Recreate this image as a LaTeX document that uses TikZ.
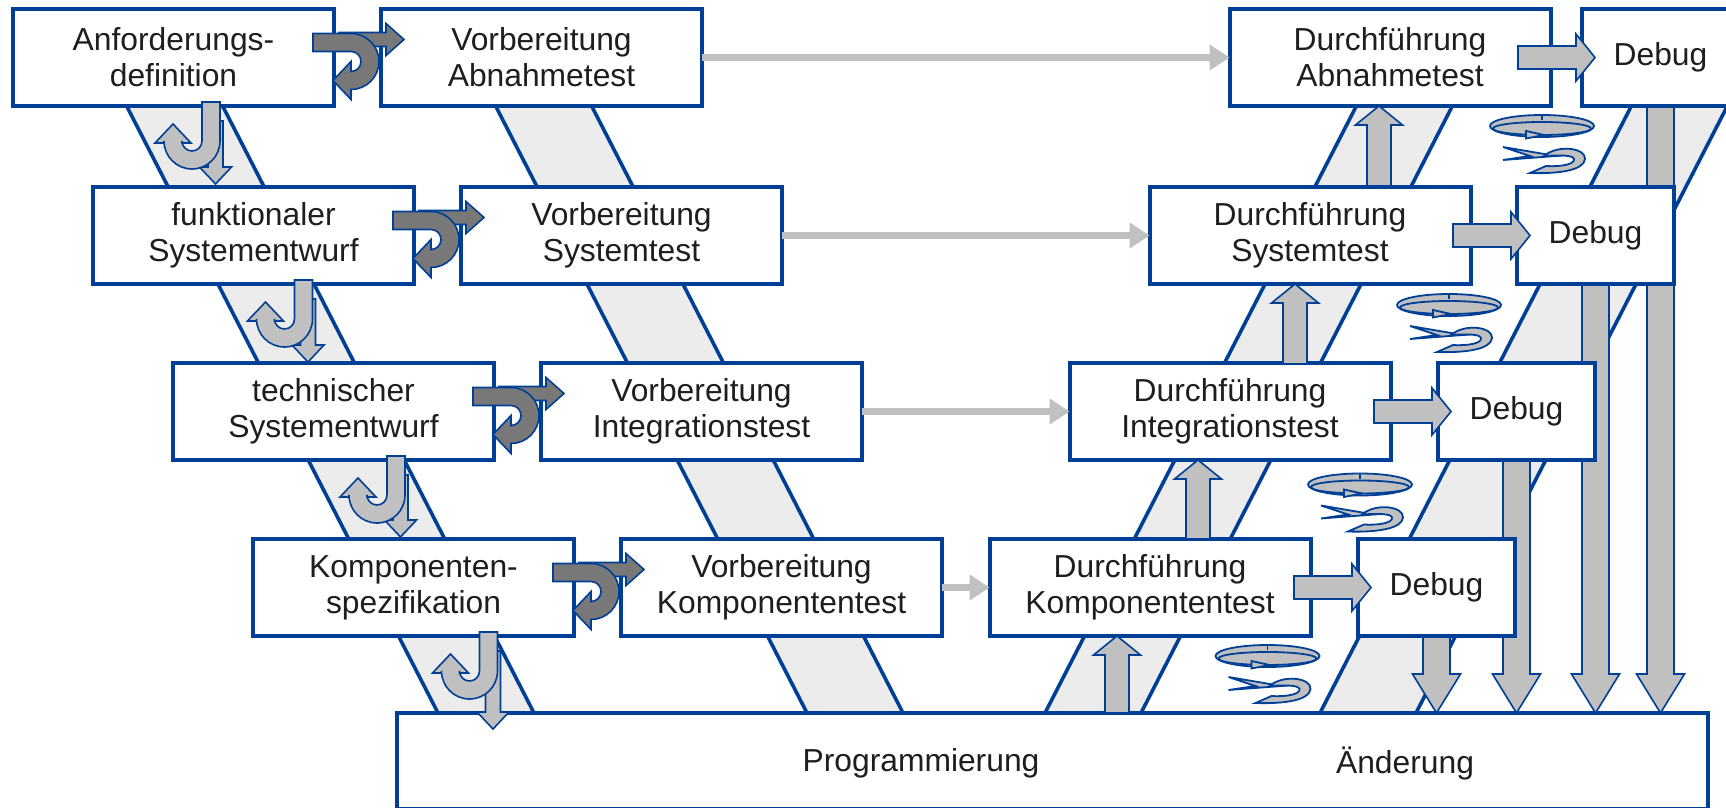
\documentclass[tikz,border=0pt]{standalone}
\usepackage{fontspec}
\setmainfont{Liberation Sans}
\usetikzlibrary{arrows.meta,calc,backgrounds}

\definecolor{vblue}{RGB}{0,63,150}
\definecolor{bandgray}{RGB}{236,236,236}
\definecolor{lightarrow}{RGB}{192,192,192}
\definecolor{darkarrow}{RGB}{120,120,120}
\definecolor{textgray}{RGB}{30,30,30}

\tikzset{
  stagebox/.style={draw=vblue, line width=2pt, fill=white, text=textgray,
    minimum width=160.5pt, minimum height=48.5pt, inner sep=0pt, outer sep=0pt,
    align=center, font=\fontsize{15.9}{18}\selectfont},
  debugbox/.style={stagebox, minimum width=78.5pt},
  boxtext/.style={text=textgray, inner sep=0pt, font=\fontsize{15.9}{18}\selectfont},
  vband/.style={draw=vblue, line width=1.8pt, fill=bandgray},
  flowline/.style={draw=lightarrow, line width=3.5pt, -{Triangle[length=10pt,width=12.5pt]}},
  blockarrow/.style={draw=vblue, line width=0.8pt, fill=lightarrow},
  turnarrow/.style={draw=vblue, line width=0.8pt, fill=darkarrow},
  spinline/.style={draw=vblue, line width=0.9pt, fill=lightarrow},
  % dark U-turn beside a left box, origin at its east side
  pics/uturn/.style={code={
    \draw[turnarrow] (5,-25) -- (52,-25) -- (52,-34) -- (70,-18) -- (52,-2) -- (52,-11) -- (5,-11) -- cycle;
    \draw[turnarrow] (-21,-24) -- (17,-24) arc[start angle=-90,end angle=90,radius=28]
      -- (17,42) -- (-1,23) -- (17,4) -- (17,14) arc[start angle=90,end angle=-90,radius=10]
      -- (-21,-6) -- cycle;
  }},
  % light J-turn below a left box, origin at its south side
  pics/jturn/.style={code={
    \draw[blockarrow] (-3,15) -- (12,15) -- (12,#1-17) -- (20.5,#1-17) -- (4.5,#1)
      -- (-11.5,#1-17) -- (-3,#1-17) -- cycle;
    \draw[blockarrow] (-9,-4) -- (9,-4) -- (9,35) arc[start angle=0,end angle=180,radius=28]
      -- (-47,37) -- (-56,37) -- (-38,18) -- (-20,37) -- (-29,37) -- (-29,35)
      arc[start angle=180,end angle=0,radius=10] -- cycle;
  }},
  pics/toright/.style={code={
    \draw[blockarrow] (-64,-11.5) -- (-6,-11.5) -- (-6,-23.5) -- (13,0) -- (-6,23.5)
      -- (-6,11.5) -- (-64,11.5) -- cycle;
  }},
  pics/toup/.style={code={
    \draw[blockarrow] (0,0) -- (23.5,19) -- (12,19) -- (12,#1) -- (-12,#1) -- (-12,19)
      -- (-23.5,19) -- cycle;
  }},
  pics/todown/.style={code={
    \draw[blockarrow] (0,0) -- (24,-39) -- (13.5,-39) -- (13.5,-#1) -- (-13.5,-#1)
      -- (-13.5,-39) -- (-24,-39) -- cycle;
  }},
  % ring and spring between the test boxes
  pics/spin/.style={code={
    \draw[spinline] (0,0) ellipse[x radius=52,y radius=11];
    \draw[spinline] (0,2.5) ellipse[x radius=49,y radius=6.5];
    \draw[spinline] (-16,5) -- (2,9) -- (-16,12.5) -- cycle;
    \draw[vblue, line width=0.8pt] (0,-11) -- (0,-6);
    \draw[spinline] (-39,21) -- (14,30) -- (-39,34) -- (-12,30) -- cycle;
    \draw[spinline] (2,30) .. controls (16,18) and (44,22) .. (43,33)
      .. controls (42,44) and (18,48) .. (-12,47) -- (4,40)
      .. controls (20,41) and (33,38) .. (32,33)
      .. controls (31,29) and (18,29) .. (2,30) -- cycle;
  }}
}

\begin{document}
\begin{tikzpicture}[x=0.5pt,y=-0.5pt]
\useasboundingbox (0,0) rectangle (1726,808);

% ---- Left column ----
\node[stagebox] (anf)   at (173.5,57.5)  {Anforderungs-\\definition};
\node[stagebox] (fse)   at (253.5,235.5) {funktionaler\\Systementwurf};
\node[stagebox] (tse)   at (333.5,411.5) {technischer\\Systementwurf};
\node[stagebox] (kspec) at (413.5,587.5) {Komponenten-\\spezifikation};

% ---- Vorbereitung ----
\node[stagebox] (vat) at (541.5,57.5)  {Vorbereitung\\Abnahmetest};
\node[stagebox] (vst) at (621.5,235.5) {Vorbereitung\\Systemtest};
\node[stagebox] (vit) at (701.5,411.5) {Vorbereitung\\Integrationstest};
\node[stagebox] (vkt) at (781.5,587.5) {Vorbereitung\\Komponententest};

% ---- Durchführung ----
\node[stagebox] (dat) at (1390,57.5)  {Durchführung\\Abnahmetest};
\node[stagebox] (dst) at (1310,235.5) {Durchführung\\Systemtest};
\node[stagebox] (dit) at (1230,411.5) {Durchführung\\Integrationstest};
\node[stagebox] (dkt) at (1150,587.5) {Durchführung\\Komponententest};

% ---- Debug ----
\node[debugbox] (dbga) at (1660.5,57.5)  {Debug};
\node[debugbox] (dbgs) at (1595.5,235.5) {Debug};
\node[debugbox] (dbgi) at (1516.5,411.5) {Debug};
\node[debugbox] (dbgk) at (1436.5,587.5) {Debug};

% ---- Programmierung / Änderung ----
\node[stagebox, minimum width=655.5pt, minimum height=48pt] (prog) at (1052.5,761) {};
\node[boxtext] (progtxt) at (921,763) {Programmierung};
\node[boxtext] (aendtxt) at (1405,763) {Änderung};

% Bands and long arrows behind the boxes
\begin{scope}[on background layer]
  \draw[vband] (101.5,57) -- (197.5,57) -- (534,713) -- (438,713) -- cycle;
  \draw[vband] (470.5,57) -- (566.5,57) -- (903,713) -- (807,713) -- cycle;
  \draw[vband] (1381.5,57) -- (1477.5,57) -- (1141,713) -- (1045,713) -- cycle;
  \draw[vband] (1656.5,57) -- (1752.5,57) -- (1416,713) -- (1320,713) -- cycle;
  \pic at (dbga.south |- prog.north) {todown=656};
  \pic at (dbgs.south |- prog.north) {todown=478};
  \pic at (dbgi.south |- prog.north) {todown=302};
  \pic at (dbgk.south |- prog.north) {todown=126};
\end{scope}

% Vorbereitung -> Durchführung
\draw[flowline] (vat) -- (dat);
\draw[flowline] (vst) -- (dst);
\draw[flowline] (vit) -- (dit);
\draw[flowline] (vkt) -- (dkt);

% U-turns to the right
\pic at (anf.east) {uturn};
\pic at (fse.east) {uturn};
\pic at (tse.east) {uturn};
\pic at (kspec.east) {uturn};

% J-turns downwards
\pic at ($(anf.south)+(37.5,0)$) {jturn=78};
\pic at ($(fse.south)+(50,0)$) {jturn=78};
\pic at ($(tse.south)+(62.5,0)$) {jturn=77};
\pic at ($(kspec.south)+(75,0)$) {jturn=93};

% Durchführung upwards
\pic at ($(dat.south)+(-11,0)$) {toup=80};
\pic at ($(dst.south)+(-15,0)$) {toup=80};
\pic at ($(dit.south)+(-32,0)$) {toup=79};
\pic at ($(dkt.south)+(-33,0)$) {toup=77};

% Durchführung -> Debug
\pic at (dbga.west) {toright};
\pic at (dbgs.west) {toright};
\pic at (dbgi.west) {toright};
\pic at (dbgk.west) {toright};

% Iteration symbols
\pic at (1542,126) {spin};
\pic at (1449,305) {spin};
\pic at (1360,484.5) {spin};
\pic at (1267.5,656) {spin};

\end{tikzpicture}
\end{document}
